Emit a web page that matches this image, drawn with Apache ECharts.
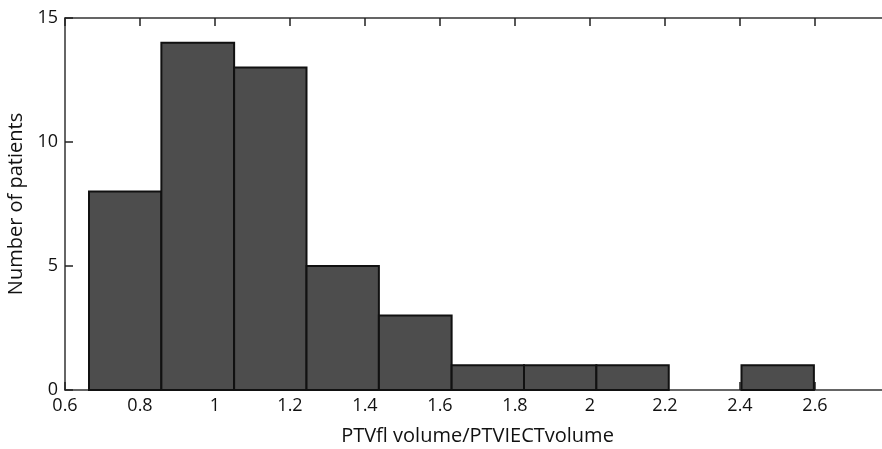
<!DOCTYPE html>
<html><head><meta charset="utf-8">
<script src="https://cdn.jsdelivr.net/npm/echarts@6/dist/echarts.min.js"></script>
<style>html,body{margin:0;padding:0;background:#fff;overflow:hidden}#c{width:882px;height:449px}</style>
</head><body><div id="c"></div>
<script>
const binEdges = [0.664, 0.857, 1.051, 1.244, 1.437, 1.631, 1.824, 2.017, 2.21, 2.404, 2.597];
const counts = [8, 14, 13, 5, 3, 1, 1, 1, 0, 1];
const xTitle = 'PTVfl volume/PTVIECTvolume';
const yTitle = 'Number of patients';

const data = counts.map((c, i) => [binEdges[i], binEdges[i + 1], c]);
const font = '"Open Sans", "Noto Sans", sans-serif';
const chart = echarts.init(document.getElementById('c'));
const axisLine = {show: true, lineStyle: {color: '#333', width: 1.5}};
const tick = {show: true, inside: true, length: 8, lineStyle: {color: '#222', width: 1.5}};
chart.setOption({
  animation: false,
  grid: {left: 65, width: 825, top: 18, height: 372, show: false, containLabel: false, outerBoundsMode: 'none'},
  xAxis: [{
    type: 'value', min: 0.6, max: 2.8, interval: 0.2, position: 'bottom',
    name: xTitle, nameLocation: 'middle', nameGap: 36,
    nameTextStyle: {fontFamily: font, fontSize: 20, color: '#111'},
    axisLine: axisLine, axisTick: tick,
    axisLabel: {fontFamily: font, fontSize: 18, color: '#111', margin: 7,
      formatter: v => v > 2.7 ? '' : String(Math.round(v * 10) / 10)},
    splitLine: {show: false}
  }, {
    type: 'value', min: 0.6, max: 2.8, interval: 0.2, position: 'top',
    axisLine: axisLine, axisTick: tick,
    axisLabel: {show: false}, splitLine: {show: false}
  }],
  yAxis: [{
    type: 'value', min: 0, max: 15, interval: 5,
    name: yTitle, nameLocation: 'middle', nameGap: 37, nameRotate: 90,
    nameTextStyle: {fontFamily: font, fontSize: 20, color: '#111'},
    axisLine: axisLine, axisTick: tick,
    axisLabel: {fontFamily: font, fontSize: 18, color: '#111', margin: 7},
    splitLine: {show: false}
  }],
  series: [{
    type: 'custom',
    data: data,
    z: 1,
    renderItem: function (params, api) {
      if (api.value(2) === 0) return null;
      const p0 = api.coord([api.value(0), api.value(2)]);
      const p1 = api.coord([api.value(1), 0]);
      return {
        type: 'rect',
        shape: {x: p0[0], y: p0[1], width: p1[0] - p0[0], height: p1[1] - p0[1]},
        style: {fill: '#4d4d4d', stroke: '#111', lineWidth: 2}
      };
    },
    encode: {x: [0, 1], y: 2}
  }]
});
</script></body></html>
